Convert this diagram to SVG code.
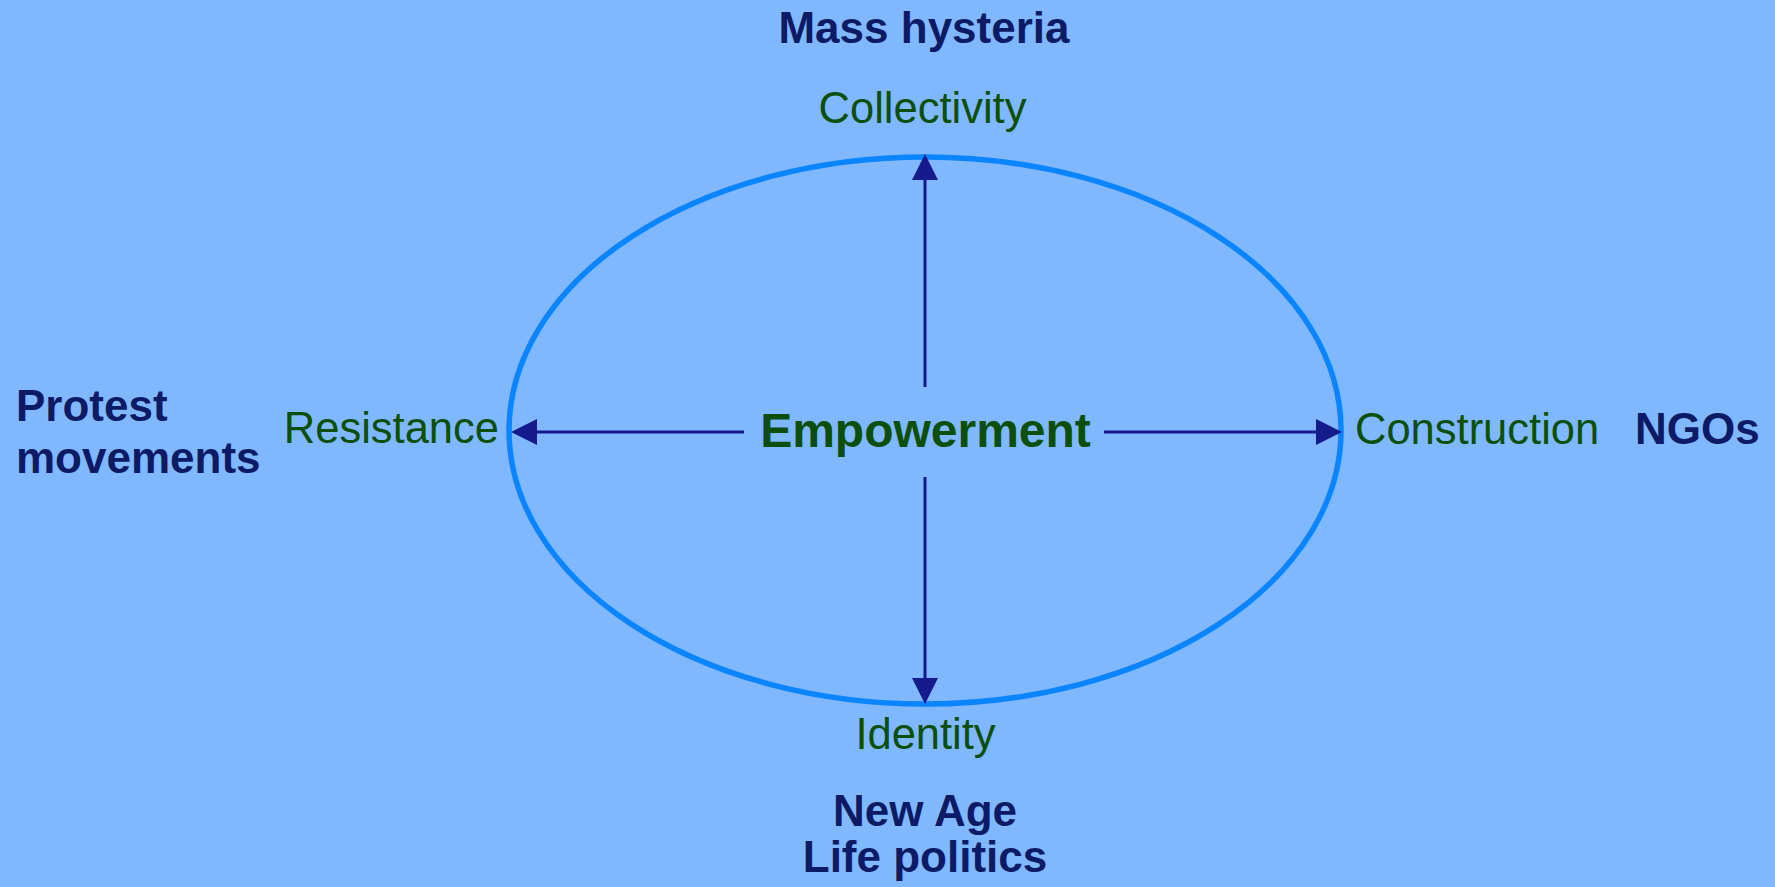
<svg xmlns="http://www.w3.org/2000/svg" width="1775" height="887" viewBox="0 0 1775 887">
<defs>
<style>
.bg{fill:#80B8FF}
.ring{fill:none;stroke:#0A84FF;stroke-width:5.5}
.conn{stroke:#151A8C;stroke-width:3;fill:none}
.ctx{font-family:"Liberation Sans",Arial,sans-serif;font-weight:bold;font-size:44px;fill:#0D1A66}
.pole{font-family:"Liberation Sans",Arial,sans-serif;font-size:43.5px;fill:#0B4F0B}
.core{font-family:"Liberation Sans",Arial,sans-serif;font-weight:bold;font-size:48px;fill:#0B4F0B}
</style>
<marker id="ah" viewBox="0 0 26 26" refX="0" refY="13" markerWidth="26" markerHeight="26" markerUnits="userSpaceOnUse" orient="auto">
<path d="M0,0 L26,13 L0,26 Z" fill="#151A8C"/>
</marker>
</defs>
<rect class="bg" x="0" y="0" width="1775" height="887"/>
<g id="ellipse"><ellipse class="ring" cx="925" cy="430.5" rx="416" ry="273.5"/></g>
<g id="connectors">
<line class="conn" x1="925" y1="387" x2="925" y2="180" marker-end="url(#ah)"/>
<line class="conn" x1="925" y1="477" x2="925" y2="678" marker-end="url(#ah)"/>
<line class="conn" x1="744" y1="432" x2="537" y2="432" marker-end="url(#ah)"/>
<line class="conn" x1="1104" y1="432" x2="1316" y2="432" marker-end="url(#ah)"/>
</g>
<g id="empowerment"><text class="core" x="925.5" y="447" text-anchor="middle">Empowerment</text></g>
<g id="collectivity"><text class="pole" x="922.5" y="123" text-anchor="middle">Collectivity</text></g>
<g id="identity"><text class="pole" x="925.5" y="749" text-anchor="middle">Identity</text></g>
<g id="resistance"><text class="pole" x="499" y="443" text-anchor="end">Resistance</text></g>
<g id="construction"><text class="pole" x="1355" y="444">Construction</text></g>
<g id="mass-hysteria"><text class="ctx" x="924" y="43" text-anchor="middle">Mass hysteria</text></g>
<g id="protest-movements"><text class="ctx" x="16" y="421">Protest</text><text class="ctx" x="16" y="473">movements</text></g>
<g id="ngos"><text class="ctx" x="1635" y="444">NGOs</text></g>
<g id="new-age"><text class="ctx" x="925" y="826" text-anchor="middle">New Age</text><text class="ctx" x="925" y="872" text-anchor="middle">Life politics</text></g>
</svg>
